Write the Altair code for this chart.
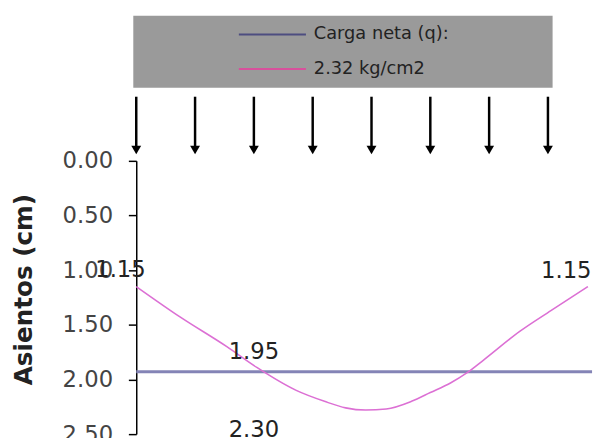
import altair as alt
import pandas as pd

# ---- data ----
pos = [0, 0.75, 1.54, 2.05, 2.72, 3.2, 3.56, 3.9, 4.25, 4.68, 5.0, 5.35, 5.62, 5.91, 6.52, 7.05, 7.68]
asiento = [1.15, 1.43, 1.70, 1.89, 2.10, 2.20, 2.26, 2.28, 2.27, 2.20, 2.12, 2.03, 1.94, 1.82, 1.56, 1.37, 1.15]

neta_pos = [0, 7.75]
neta_val = [1.93, 1.93]

arrow_pos = [0, 1, 2, 3, 4, 5, 6, 7]

label_text = ["1.15", "1.15", "1.95", "2.30"]
label_pos = [0, 7.68, 2.0, 2.0]
label_val = [1.15, 1.15, 1.93, 2.30]
label_dx = [-16, -22, 0, 0]
label_dy = [-17, -16, -20, 18]

legend_names = ["Carga neta (q):", "2.32 kg/cm2"]

y_ticks = [0, 0.5, 1.0, 1.5, 2.0, 2.5]

BLUE = "#8484b6"
PINK = "#dc70d4"
LEG_BLUE = "#4d4d80"
LEG_PINK = "#d8509c"
FONT = "DejaVu Sans"

W, H = 462, 277
xs = alt.Scale(domain=[0, 7.75], nice=False, zero=False)
ys = alt.Scale(domain=[0, 2.5], reverse=True, nice=False)
legs = alt.Scale(domain=[0, 1], range=[-128, -93])

curve_df = pd.DataFrame({"x": pos, "y": asiento})
neta_df = pd.DataFrame({"x": neta_pos, "y": neta_val})
arrow_df = pd.DataFrame({"x": arrow_pos})
lab_df = pd.DataFrame({"x": label_pos, "y": label_val, "t": label_text})
leg_df = pd.DataFrame({"name": legend_names, "row": [0, 1],
                       "c": [LEG_BLUE, LEG_PINK]})

yaxis = alt.Axis(values=y_ticks, format=".2f", title="Asientos (cm)",
                 labelFont=FONT, labelFontSize=23, labelColor="#444",
                 labelPadding=16, tickSize=8, tickColor="#000", domainColor="#000",
                 tickWidth=1.5, domainWidth=1.5, grid=False,
                 titleFont=FONT, titleFontSize=25, titleFontWeight="bold",
                 titleColor="#222", titlePadding=26, titleY=130)

neta = alt.Chart(neta_df).mark_line(color=BLUE, strokeWidth=3).encode(
    x=alt.X("x:Q", scale=xs, axis=None),
    y=alt.Y("y:Q", scale=ys, axis=yaxis),
)
curve = alt.Chart(curve_df).mark_line(color=PINK, strokeWidth=1.6,
                                      interpolate="monotone").encode(
    x=alt.X("x:Q", scale=xs, axis=None), y=alt.Y("y:Q", scale=ys, axis=None))

labels = []
for i in range(len(label_text)):
    d = lab_df.iloc[[i]]
    labels.append(alt.Chart(d).mark_text(font=FONT, fontSize=23, color="#222",
                                         dx=label_dx[i], dy=label_dy[i]).encode(
        x=alt.X("x:Q", scale=xs, axis=None), y=alt.Y("y:Q", scale=ys, axis=None),
        text="t:N"))

shaft = alt.Chart(arrow_df).mark_rule(color="#000", strokeWidth=2.5).encode(
    x=alt.X("x:Q", scale=xs, axis=None), y=alt.value(-65), y2=alt.value(-14))
head = alt.Chart(arrow_df).mark_point(shape="triangle-down", filled=True,
                                      color="#000", size=100, opacity=1).encode(
    x=alt.X("x:Q", scale=xs, axis=None), y=alt.value(-11))

box = alt.Chart(leg_df.iloc[[0]]).mark_rect(color="#9a9a9a").encode(
    x=alt.value(-3), x2=alt.value(422), y=alt.value(-147), y2=alt.value(-74))
leg_lines = alt.Chart(leg_df).mark_rule(strokeWidth=2).encode(
    x=alt.value(104), x2=alt.value(172),
    y=alt.Y("row:Q", scale=legs, axis=None),
    color=alt.Color("c:N", scale=None))
leg_text = alt.Chart(leg_df).mark_text(font=FONT, fontSize=18, color="#222",
                                       align="left", baseline="middle").encode(
    x=alt.value(180),
    y=alt.Y("row:Q", scale=legs, axis=None),
    text="name:N")

chart = alt.layer(neta, curve, *labels, shaft, head, box, leg_lines, leg_text).resolve_scale(
    y="independent").properties(
    width=W, height=H, autosize=alt.AutoSizeParams(type="none"),
    padding={"left": 130, "top": 152, "right": 4, "bottom": 1},
).configure_view(stroke=None)

chart.save("out.html", embed_options={"renderer": "svg", "actions": False})
